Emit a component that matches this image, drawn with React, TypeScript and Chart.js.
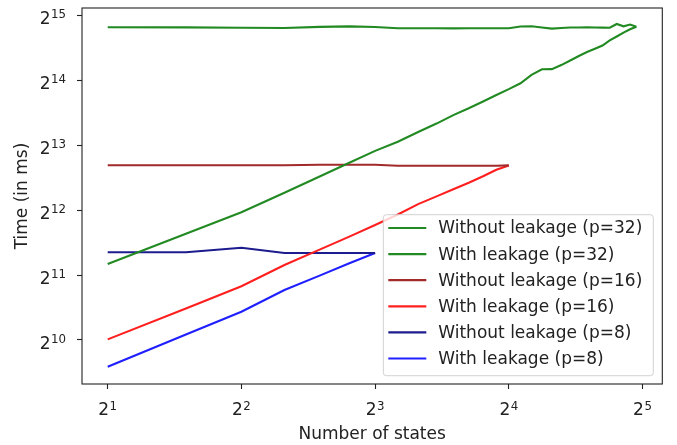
import React, { useEffect, useRef } from 'react';
import { Chart, registerables } from 'chart.js';

Chart.register(...registerables);

// ---- data (time in ms vs number of states) ----
const states32 = [2, 3, 4, 5, 6, 7, 8, 9, 10, 11, 12, 13, 14, 15, 16, 17, 18, 19, 20, 21, 22, 23, 24, 25, 26, 27, 28, 29, 30, 31];
const timeWithout32 = [28743, 28723, 28625, 28526, 28885, 29045, 28824, 28450, 28440, 28460, 28430, 28450, 28440, 28460, 28470, 28986, 29045, 28684, 28330, 28526, 28684, 28684, 28723, 28684, 28650, 28625, 29781, 29045, 29617, 28925];
const timeWith32 = [2303, 3180, 4001, 4924, 5853, 6776, 7697, 8481, 9410, 10297, 11268, 12119, 13034, 13970, 14869, 15826, 17318, 18370, 18400, 19215, 20171, 21174, 22073, 22851, 23657, 25007, 26069, 27175, 28133, 28925];

const states16 = [2, 3, 4, 5, 6, 7, 8, 9, 10, 11, 12, 13, 14, 15, 16];
const timeWithout16 = [6600, 6600, 6600, 6600, 6640, 6640, 6640, 6570, 6570, 6570, 6570, 6570, 6570, 6570, 6590];
const timeWith16 = [1031, 1434, 1818, 2279, 2684, 3083, 3492, 3902, 4360, 4738, 5113, 5480, 5873, 6295, 6590];

const states8 = [2, 3, 4, 5, 6, 7, 8];
const timeWithout8 = [2609, 2609, 2740, 2589, 2589, 2589, 2589];
const timeWith8 = [770, 1086, 1384, 1746, 2034, 2320, 2589];

const seriesLabels = [
  'Without leakage (p=32)',
  'With leakage (p=32)',
  'Without leakage (p=16)',
  'With leakage (p=16)',
  'Without leakage (p=8)',
  'With leakage (p=8)',
];
const seriesColors = ['#228a22', '#228a22', '#a32a2a', '#ff1f1f', '#1c1c8e', '#1f1fff'];

const xTickExponents = [1, 2, 3, 4, 5];
const yTickExponents = [10, 11, 12, 13, 14, 15];
const tickBase = '2';

const xAxisTitle = 'Number of states';
const yAxisTitle = 'Time (in ms)';

const FONT = 'DejaVu Sans';
const BASE_SIZE = 17;
const EXP_SIZE = 11.8;

const toPoints = (xs: number[], ys: number[]) => xs.map((x, i) => ({ x: Math.log2(x), y: Math.log2(ys[i]) }));

// draws "2^n" tick labels in a mathtext-like way (base + raised smaller exponent)
const powerTickPlugin = {
  id: 'powerTicks',
  afterDraw(chart: any) {
    const { ctx, scales } = chart;
    const drawLabel = (exp: number, anchorX: number, baseline: number, align: 'center' | 'right') => {
      const e = String(exp);
      ctx.font = `${BASE_SIZE}px "${FONT}"`;
      const wb = ctx.measureText(tickBase).width;
      ctx.font = `${EXP_SIZE}px "${FONT}"`;
      const we = ctx.measureText(e).width;
      const total = wb + we + 0.5;
      const left = align === 'center' ? anchorX - total / 2 : anchorX - total;
      ctx.textAlign = 'left';
      ctx.textBaseline = 'alphabetic';
      ctx.fillStyle = '#222';
      ctx.font = `${BASE_SIZE}px "${FONT}"`;
      ctx.fillText(tickBase, left, baseline);
      ctx.font = `${EXP_SIZE}px "${FONT}"`;
      ctx.fillText(e, left + wb + 0.5, baseline - 5.8);
    };
    ctx.save();
    const xs = scales.x;
    xTickExponents.forEach((v) => {
      drawLabel(v, xs.getPixelForValue(v), xs.top + 31.4, 'center');
    });
    const ys = scales.y;
    yTickExponents.forEach((v) => {
      drawLabel(v, ys.right - 16, ys.getPixelForValue(v) + 8.9, 'right');
    });
    ctx.restore();
  },
};

const spinePlugin = {
  id: 'spines',
  afterDatasetsDraw(chart: any) {
    const { ctx, chartArea: a } = chart;
    ctx.save();
    ctx.strokeStyle = '#222';
    ctx.lineWidth = 1.1;
    ctx.strokeRect(a.left, a.top, a.right - a.left, a.bottom - a.top);
    ctx.restore();
  },
};

const legendPlugin = {
  id: 'mplLegend',
  afterDatasetsDraw(chart: any) {
    const { ctx, chartArea: a } = chart;
    const w = 270;
    const h = 161;
    const x0 = a.right - 9 - w;
    const y0 = a.bottom - 8.3 - h;
    ctx.save();
    ctx.beginPath();
    const r = 3;
    ctx.moveTo(x0 + r, y0);
    ctx.arcTo(x0 + w, y0, x0 + w, y0 + h, r);
    ctx.arcTo(x0 + w, y0 + h, x0, y0 + h, r);
    ctx.arcTo(x0, y0 + h, x0, y0, r);
    ctx.arcTo(x0, y0, x0 + w, y0, r);
    ctx.closePath();
    ctx.fillStyle = 'rgba(255,255,255,0.8)';
    ctx.fill();
    ctx.strokeStyle = 'rgba(204,204,204,0.9)';
    ctx.lineWidth = 1;
    ctx.stroke();
    ctx.font = `${BASE_SIZE}px "${FONT}"`;
    ctx.textBaseline = 'middle';
    ctx.textAlign = 'left';
    chart.data.datasets.forEach((ds: any, i: number) => {
      const cy = y0 + 13.3 + i * 26.1;
      ctx.beginPath();
      ctx.strokeStyle = ds.borderColor;
      ctx.lineWidth = 2.2;
      ctx.moveTo(x0 + 5, cy);
      ctx.lineTo(x0 + 43, cy);
      ctx.stroke();
      ctx.fillStyle = '#222';
      ctx.fillText(ds.label, x0 + 55, cy + 1);
    });
    ctx.restore();
  },
};

export default function App() {
  const ref = useRef<HTMLCanvasElement>(null);
  useEffect(() => {
    document.body.style.margin = '0';
    const seriesX = [states32, states32, states16, states16, states8, states8];
    const seriesY = [timeWithout32, timeWith32, timeWithout16, timeWith16, timeWithout8, timeWith8];
    const datasets = seriesLabels.map((label, i) => ({
      label,
      data: toPoints(seriesX[i], seriesY[i]),
      borderColor: seriesColors[i],
      backgroundColor: seriesColors[i],
      borderWidth: 2.1,
      pointRadius: 0,
      tension: 0,
      fill: false,
    }));
    const chart = new Chart(ref.current as HTMLCanvasElement, {
      type: 'line',
      data: { datasets },
      plugins: [spinePlugin, legendPlugin, powerTickPlugin],
      options: {
        animation: false,
        responsive: false,
        devicePixelRatio: 1,
        parsing: false as any,
        layout: { padding: { top: 8, right: 14.7, left: 0, bottom: 0 } },
        plugins: { legend: { display: false }, tooltip: { enabled: false } },
        scales: {
          x: {
            type: 'linear',
            min: 0.8078,
            max: 5.148,
            afterBuildTicks: (s: any) => {
              s.ticks = xTickExponents.map((v) => ({ value: v }));
            },
            afterFit: (s: any) => {
              s.height = 61;
              s.paddingLeft = 0;
              s.paddingRight = 0;
            },
            ticks: { display: false, autoSkip: false },
            grid: { drawOnChartArea: false, drawTicks: true, tickLength: 5, tickColor: '#222', tickWidth: 1.1 },
            border: { display: false },
            title: {
              display: true,
              text: xAxisTitle,
              font: { family: FONT, size: BASE_SIZE },
              color: '#222',
              padding: { top: 0, bottom: 0 },
            },
          },
          y: {
            type: 'linear',
            min: 9.323,
            max: 15.108,
            afterBuildTicks: (s: any) => {
              s.ticks = yTickExponents.map((v) => ({ value: v }));
            },
            afterFit: (s: any) => {
              s.width = 82;
              s.paddingTop = 0;
              s.paddingBottom = 0;
            },
            ticks: { display: false, autoSkip: false },
            grid: { drawOnChartArea: false, drawTicks: true, tickLength: 5, tickColor: '#222', tickWidth: 1.1 },
            border: { display: false },
            title: {
              display: true,
              text: yAxisTitle,
              font: { family: FONT, size: BASE_SIZE },
              color: '#222',
              padding: { top: 12, bottom: 0 },
            },
          },
        },
      } as any,
    });
    return () => chart.destroy();
  }, []);
  return <canvas ref={ref} width={677} height={445} style={{ display: 'block', width: 677, height: 445 }} />;
}
